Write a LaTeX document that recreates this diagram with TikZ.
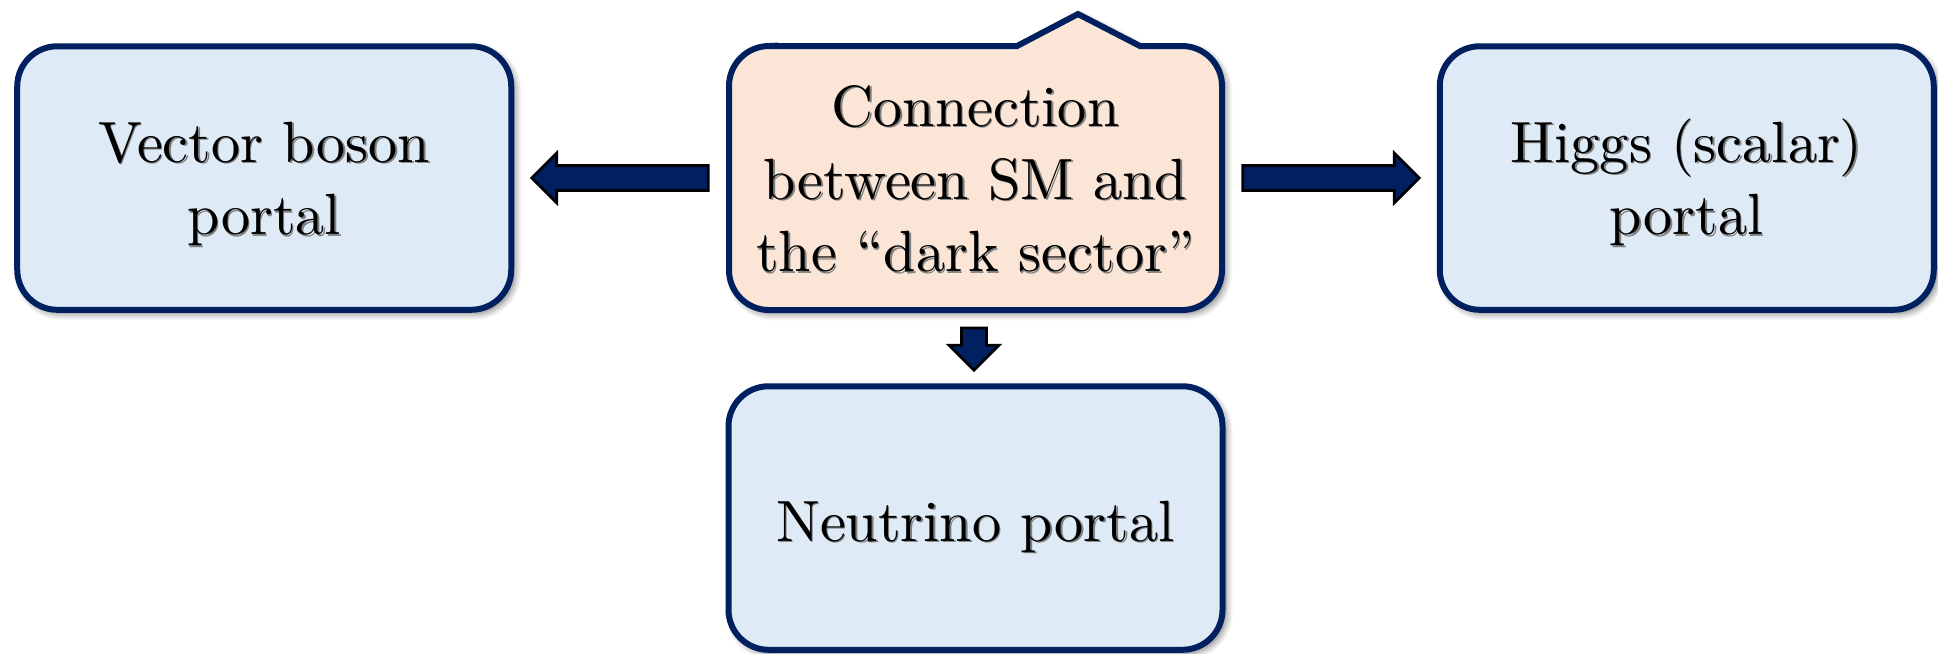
\documentclass[tikz,border=0pt]{standalone}
\usetikzlibrary{calc,shadows.blur}
\definecolor{navy}{HTML}{002060}
\definecolor{paleblue}{HTML}{DEEAF6}
\definecolor{peach}{HTML}{FBE5D6}

% block arrow from #1 (tail) to #2 (tip)
\newcommand\blockarrow[2]{%
  \coordinate (#1-hb) at ($(#2)!4.3pt!(#1)$);
  \draw[blockarr]
    ($(#1)!2.15pt!90:(#2)$) -- ($(#1-hb)!2.15pt!90:(#2)$) --
    ($(#1-hb)!4.3pt!90:(#2)$) -- (#2) --
    ($(#1-hb)!4.3pt!-90:(#2)$) -- ($(#1-hb)!2.15pt!-90:(#2)$) --
    ($(#1)!2.15pt!-90:(#2)$) -- cycle;
}

\begin{document}
\begin{tikzpicture}[x=0.1718pt,y=0.1718pt,
  boxshade/.style={blur shadow={shadow xshift=0.6pt,shadow yshift=-0.6pt,
      shadow blur radius=1.2pt,shadow opacity=55,shadow blur steps=8}},
  portal/.style={rectangle,rounded corners=6.87pt,draw=navy,line width=1.03pt,
      fill=paleblue,minimum width=84.87pt,minimum height=45.27pt,inner sep=0pt,boxshade},
  corebox/.style={rectangle,minimum width=84.87pt,minimum height=45.27pt,inner sep=0pt},
  boxtext/.style={align=center,font=\fontsize{10}{12.5}\selectfont,inner sep=0pt,text=black},
  boxtextshade/.style={boxtext,text=black!50},
  blockarr/.style={fill=navy,draw=black,line width=0.45pt,line join=miter}]

\useasboundingbox (0,0) rectangle (1938,-653);

% side and bottom portals
\node[portal] (vec) at (264.25,-178) {};
\node[portal] (hig) at (1686.75,-178) {};
\node[portal] (neu) at (975.5,-518) {};

% central speech-bubble box with a tab on top
\path[fill=peach,draw=navy,line width=1.03pt,line join=miter,boxshade]
  (769,-46) -- (1017,-46) -- (1078,-14) -- (1140,-46) -- (1182,-46)
  arc[start angle=90,end angle=0,radius=6.872pt] -- (1222,-270)
  arc[start angle=0,end angle=-90,radius=6.872pt] -- (769,-310)
  arc[start angle=270,end angle=180,radius=6.872pt] -- (729,-86)
  arc[start angle=180,end angle=90,radius=6.872pt] -- cycle;
\node[corebox] (core) at (975.5,-178) {};

% texts with a soft shadow
\node[boxtextshade] (vecS) at (265.6,-185.4) {Vector boson\\portal};
\node[boxtext] (vecT) at (264.25,-184) {Vector boson\\portal};
\node[boxtextshade] (higS) at (1688.1,-183.7) {Higgs (scalar)\\portal};
\node[boxtext] (higT) at (1686.75,-182.3) {Higgs (scalar)\\portal};
\node[boxtextshade] (neuS) at (976.9,-527.9) {Neutrino portal};
\node[boxtext] (neuT) at (975.5,-526.5) {Neutrino portal};
\node[boxtextshade] (coreS) at (976.9,-180.4) {Connection\\between SM and\\the ``dark sector''};
\node[boxtext] (coreT) at (975.5,-179) {Connection\\between SM and\\the ``dark sector''};

% connecting block arrows
\coordinate (lTail) at ($(core.west)+(-19,0)$);
\coordinate (lTip) at ($(vec.east)+(17.5,0)$);
\coordinate (rTail) at ($(core.east)+(19,0)$);
\coordinate (rTip) at ($(hig.west)+(-17.5,0)$);
\coordinate (dTail) at ($(core.south)+(-1.5,-17)$);
\coordinate (dTip) at ($(neu.north)+(-1.5,13)$);
\blockarrow{lTail}{lTip}
\blockarrow{rTail}{rTip}
\blockarrow{dTail}{dTip}
\end{tikzpicture}
\end{document}
